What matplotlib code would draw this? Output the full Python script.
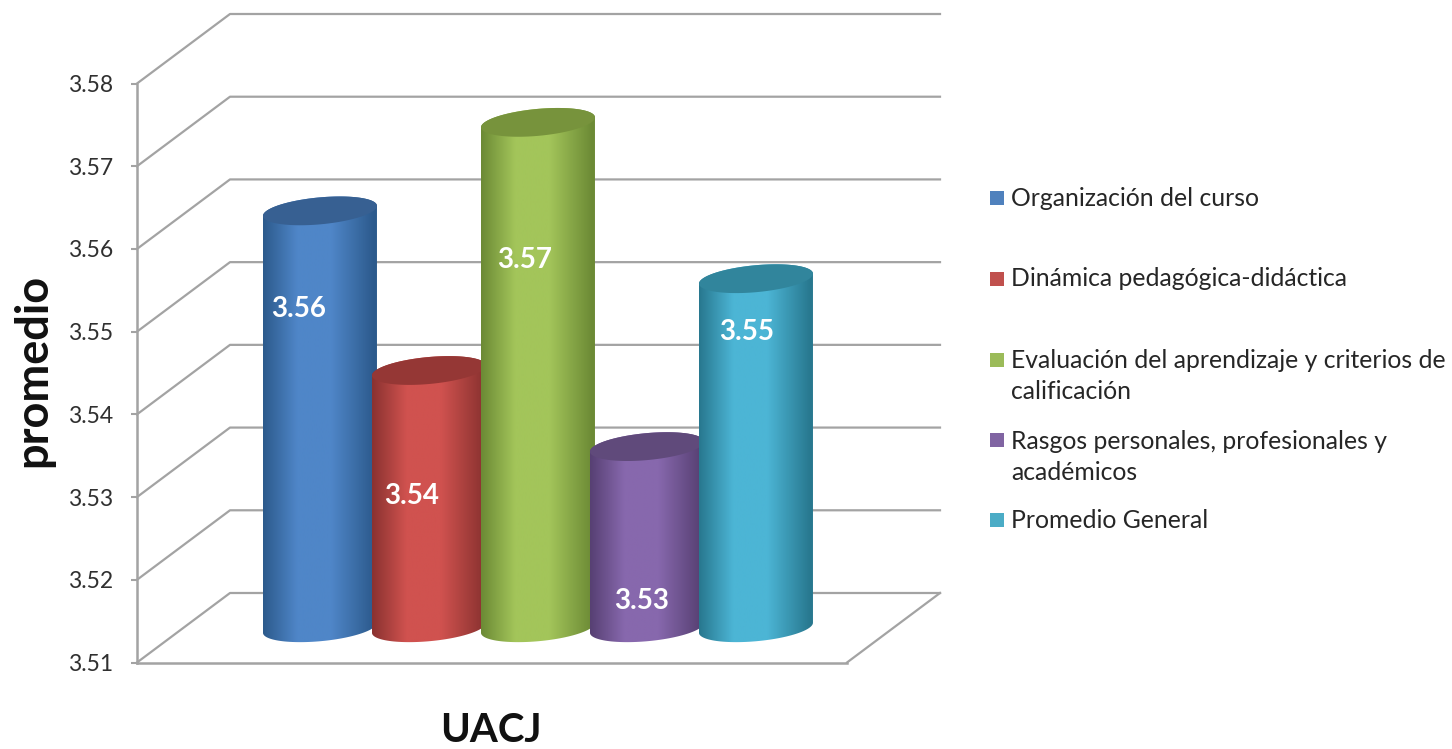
import matplotlib
matplotlib.use("Agg")
import matplotlib.pyplot as plt
import numpy as np
from matplotlib.colors import LinearSegmentedColormap
from matplotlib.patches import Polygon, Rectangle

plt.rcParams['font.family'] = ['Lato', 'DejaVu Sans']

# data
categories = ["Organización del curso", "Dinámica pedagógica-didáctica",
              "Evaluación del aprendizaje y criterios de\ncalificación",
              "Rasgos personales, profesionales y\nacadémicos", "Promedio General"]
values = [3.5604, 3.5411, 3.5711, 3.5319, 3.5522]
y_ticks = [3.51, 3.52, 3.53, 3.54, 3.55, 3.56, 3.57, 3.58]

# colours: edge of cylinder, middle of cylinder, top face
edge_colors = ['#2c5a8c', '#8a3230', '#6c8a35', '#574073', '#28788f']
mid_colors = ['#4f86c8', '#d0524f', '#a3c55a', '#8768ad', '#4cb5d5']
top_colors = ['#376092', '#953735', '#77933c', '#604a7b', '#31859c']
legend_colors = ['#4f81bd', '#c0504d', '#9bbb59', '#8064a2', '#4bacc6']

W, H = 1452, 749
fig = plt.figure(figsize=(W / 100, H / 100), dpi=100, facecolor='white')

# axes = front plane of the fake 3d box
ax_l, ax_r, ax_b, ax_t = 137, 847, 662.5, 83.5
ax = fig.add_axes([ax_l / W, 1 - ax_b / H, (ax_r - ax_l) / W, (ax_b - ax_t) / H])
ax.patch.set_alpha(0)

per_x = 109.0                  # px per category
per_y = (ax_b - ax_t) / 0.07   # px per unit of value
x0 = -1.252
xlim = (x0, x0 + (ax_r - ax_l) / per_x)
ylim = (y_ticks[0], y_ticks[-1])

# depth of the box
DX = 93 / per_x
DY = 69.5 / per_y
grid_c = '#a3a3a3'

for t in y_ticks:
    ax.plot([xlim[0], xlim[0] + DX, xlim[1] + DX], [t, t + DY, t + DY],
            color=grid_c, lw=1.6, clip_on=False, zorder=1)
ax.plot([xlim[1], xlim[1] + DX], [ylim[0], ylim[0] + DY], color=grid_c, lw=1.6,
        clip_on=False, zorder=1)

# cylinders
half_w = 57 / per_x
ell_b = 13.5 / per_y
ell_k = 5 / per_y
t_par = np.linspace(0, 2 * np.pi, 121)
for i, v in enumerate(values):
    cx = i + DX / 2
    base = ylim[0] + DY / 2
    top = v + DY / 2
    # lower half of the bottom ellipse, then back along the upper half of the top one
    a = np.linspace(np.pi, 2 * np.pi, 60)
    low_x = cx + half_w * np.cos(a)
    low_y = base + ell_b * np.sin(a) + ell_k * np.cos(a)
    b = np.linspace(0, np.pi, 60)
    up_x = cx + half_w * np.cos(b)
    up_y = top + ell_b * np.sin(b) + ell_k * np.cos(b)
    body = Polygon(np.column_stack([np.r_[low_x, up_x], np.r_[low_y, up_y]]),
                   closed=True, fc='none', ec='none', zorder=3 + i, clip_on=False)
    ax.add_patch(body)
    cmap = LinearSegmentedColormap.from_list(
        'c%d' % i, [(0, edge_colors[i]), (0.3, mid_colors[i]), (0.6, mid_colors[i]),
                    (0.98, edge_colors[i]), (1, edge_colors[i])])
    grad = np.linspace(0, 1, 200).reshape(1, -1)
    im = ax.imshow(grad, cmap=cmap, aspect='auto', zorder=3 + i, interpolation='bilinear',
                   extent=(cx - half_w, cx + half_w, base - 2 * ell_b, top + 2 * ell_b))
    im.set_clip_path(body)
    im.set_clip_on(True)
    cap = Polygon(np.column_stack([cx + half_w * np.cos(t_par),
                                   top + ell_b * np.sin(t_par) + ell_k * np.cos(t_par)]),
                  closed=True, fc=top_colors[i], ec='none', zorder=3 + i, clip_on=False)
    ax.add_patch(cap)

ax.set_xlim(xlim)
ax.set_ylim(ylim)

# value labels
label_dx = [-0.2, -0.16, -0.12, -0.05, -0.09]
label_pos = [3.5527, 3.5301, 3.5587, 3.5174, 3.5500]
for i, v in enumerate(values):
    ax.text(i + DX / 2 + label_dx[i], label_pos[i], '%.2f' % v, color='white', fontsize=20,
            fontweight='bold', ha='center', va='center', zorder=20, clip_on=False)

ax.set_xticks([])
ax.set_yticks(y_ticks)
ax.set_yticklabels(['%.2f' % t for t in y_ticks], fontsize=16.5, color='#303030')
ax.tick_params(axis='y', length=4, width=1.5, color=grid_c, pad=13)
for s in ['top', 'right']:
    ax.spines[s].set_visible(False)
for s in ['left', 'bottom']:
    ax.spines[s].set_color(grid_c)
    ax.spines[s].set_linewidth(1.8)

fig.text(33 / W, 1 - 370 / H, 'promedio', rotation=90, fontsize=32.5, fontweight='bold',
         ha='center', va='center', color='#111111')
fig.text(491 / W, 1 - 731 / H, 'UACJ', fontsize=29, fontweight='bold', ha='center',
         va='center', color='#111111')

# legend, placed by hand because the spacing is uneven
legend_y = [198, 279, 376, 457, 520]
for name, c, y in zip(categories, legend_colors, legend_y):
    first = y - (16.5 if '\n' in name else 0)
    fig.patches.append(Rectangle((990 / W, 1 - (first + 7) / H), 14 / W, 14 / H, fc=c, ec='none',
                                 transform=fig.transFigure))
    fig.text(1011 / W, 1 - y / H, name, fontsize=17.8, color='#262626', ha='left', va='center',
             linespacing=1.43)

fig.savefig('out.png', dpi=100)
